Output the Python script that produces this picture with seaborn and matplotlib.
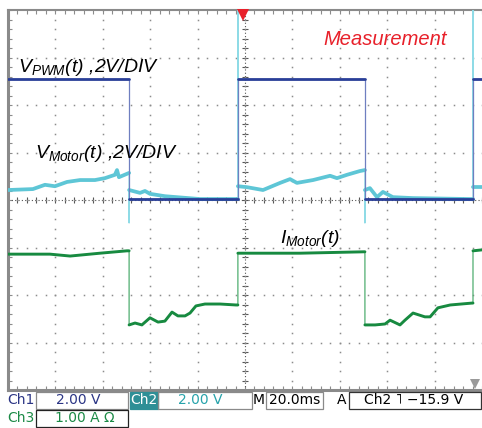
import numpy as np
import pandas as pd
import matplotlib
matplotlib.use("Agg")
import matplotlib.pyplot as plt
from matplotlib.patches import Rectangle
import seaborn as sns

# ---------------- data (time in ms, amplitude in screen divisions) ----------------
pwm_t = [0, 51.1, 51.1, 97.0, 97.0, 150.6, 150.6, 196.2, 196.2, 200]
pwm_v = [2.55, 2.55, 0.02, 0.02, 2.55, 2.55, 0.02, 0.02, 2.55, 2.55]

motor_t = [0, 10.5, 15.6, 19.8, 24.9, 30.4, 36.7, 40.9, 45.1, 46.0,
           46.8, 51.1, 51.1, 51.1, 55.7, 57.8, 59.9, 66.2, 81.0, 96.2,
           97.0, 97.0, 97.0, 100.8, 107.6, 114.8, 119.0, 121.9, 128.7, 135.9,
           138.8, 143.0, 148.5, 150.6, 150.6, 150.6, 152.7, 155.7, 158.2, 162.4,
           170.9, 195.0, 196.2, 196.2, 196.2, 200]
motor_v = [0.21, 0.23, 0.32, 0.29, 0.38, 0.42, 0.42, 0.46, 0.53, 0.63,
           0.48, 0.57, -0.48, 0.21, 0.15, 0.19, 0.13, 0.08, 0.02, 0.02,
           0.02, 4.1, 0.29, 0.27, 0.21, 0.36, 0.44, 0.36, 0.42, 0.51,
           0.46, 0.53, 0.61, 0.63, -0.48, 0.21, 0.25, 0.06, 0.17, 0.06,
           0.04, 0.02, 0.02, 4.1, 0.27, 0.27]

cur_t = [0, 17.7, 26.2, 38.8, 50.2, 51.1, 51.1, 53.6, 56.5, 59.9,
         63.3, 66.2, 69.2, 71.7, 74.7, 76.8, 79.3, 83.1, 89.5, 96.2,
         97.0, 97.0, 123.2, 150.6, 150.6, 154.9, 159.1, 161.2, 165.4, 167.5,
         170.9, 175.9, 178.1, 181.4, 186.6, 195.8, 196.2, 196.2, 200]
cur_v = [-1.14, -1.14, -1.18, -1.12, -1.07, -1.07, -2.63, -2.59, -2.63, -2.48,
         -2.57, -2.55, -2.36, -2.44, -2.44, -2.38, -2.23, -2.19, -2.19, -2.21,
         -2.21, -1.12, -1.12, -1.09, -2.63, -2.63, -2.61, -2.53, -2.63, -2.53,
         -2.38, -2.46, -2.46, -2.27, -2.21, -2.17, -2.17, -1.07, -1.05]

trigger_t = 99.2
label_pwm = r"$V_{PWM}(t)$ ,2V/DIV"
label_motor = r"$V_{Motor}(t)$ ,2V/DIV"
label_cur = r"$I_{Motor}(t)$"
title_text = "Measurement"
status_row1 = ["Ch1", "2.00 V", "Ch2", "2.00 V", "M", "20.0ms", "A", "Ch2 \u02E5 \u221215.9 V"]
status_row2 = ["Ch3", "1.00 A \u03A9"]

# ---------------- style ----------------
sns.set_theme(style="white")
plt.rcParams["font.family"] = ["DejaVu Sans"]
plt.rcParams["mathtext.fontset"] = "custom"
plt.rcParams["mathtext.it"] = "Liberation Sans:italic"
plt.rcParams["mathtext.rm"] = "Liberation Sans:italic"
plt.rcParams["mathtext.default"] = "it"

W, H = 482, 428
fig = plt.figure(figsize=(W / 100, H / 100), dpi=100)
fig.patch.set_facecolor("white")


def fx(x):
    return x / W


def fy(y):
    return 1 - y / H


ax = fig.add_axes([fx(8), fy(390), fx(474), 380 / H])
ax.set_facecolor("white")
ax.set_xlim(0, 200)
ax.set_ylim(-4, 4)

C_GRID = "#8c8c8c"

# grid dots
for gt in np.arange(20, 200, 20):
    ys = np.arange(-4, 4.001, 0.2)
    ax.plot(np.full_like(ys, gt), ys, ls="none", marker="s", ms=1.1, color=C_GRID, mew=0)
for gv in np.arange(-3, 3.5, 1):
    xs = np.arange(0, 200.01, 4)
    ax.plot(xs, np.full_like(xs, gv), ls="none", marker="s", ms=1.1, color=C_GRID, mew=0)
# centre lines
ax.axhline(0, color="#555555", lw=0.8, ls=(0, (1, 2)), zorder=1)
ax.axvline(100, color="#555555", lw=0.8, ls=(0, (1, 2)), zorder=1)
ax.vlines(np.arange(0, 200.01, 4), -0.06, 0.06, color="#555555", lw=0.8, zorder=1)
ax.hlines(np.arange(-4, 4.001, 0.2), 98.9, 101.1, color="#555555", lw=0.8, zorder=1)


def trace(t, v, color, edge_color, lw, z):
    df = pd.DataFrame({"t": t, "v": v})
    # thin line for the whole trace (shows the vertical edges)
    sns.lineplot(data=df, x="t", y="v", sort=False, estimator=None,
                 color=edge_color, lw=0.9, ax=ax, zorder=z)
    # thick noisy-looking band on the flat parts
    df["seg"] = (df["t"].diff() == 0).cumsum()
    for _, g in df.groupby("seg"):
        if len(g) > 1:
            sns.lineplot(data=g, x="t", y="v", sort=False, estimator=None,
                         color=color, lw=lw, ax=ax, zorder=z + 0.1)


trace(motor_t, motor_v, "#5ec6d6", "#8fdbe6", 2.7, 3)
trace(pwm_t, pwm_v, "#2a3f98", "#6f7fc0", 2.0, 4)
trace(cur_t, cur_v, "#178a40", "#4fae70", 2.1, 4)

# markers
ax.plot([trigger_t], [3.9], marker="v", ms=8, color="#e8202a", clip_on=False, zorder=6, mew=0)
ax.plot([197.1], [-3.87], marker="v", ms=7, color="#9a9a9a", clip_on=False, zorder=6, mew=0)

# labels
lab_kw = dict(fontsize=14, fontstyle="italic", family="Liberation Sans", color="black", va="baseline", zorder=7)
ax.text(4.2, 2.69, label_pwm, **lab_kw)
ax.text(11.4, 0.88, label_motor, **lab_kw)
ax.text(114.8, -0.91, label_cur, **lab_kw)
ax.text(132.9, 3.26, title_text, fontsize=14.5, fontstyle="italic", family="Liberation Sans",
        color="#e8202a", va="baseline")

# axes frame & ticks
ax.set_xlabel("")
ax.set_ylabel("")
ax.set_xticks(np.arange(0, 200.01, 20))
ax.set_yticks(np.arange(-4, 4.01, 1))
ax.set_xticks(np.arange(0, 200.01, 4), minor=True)
ax.set_yticks(np.arange(-4, 4.01, 0.2), minor=True)
ax.tick_params(which="both", direction="in", length=3, color=C_GRID, width=0.8,
               labelbottom=False, labelleft=False, top=True, bottom=True, left=True, right=False)
for side in ["left", "bottom"]:
    ax.spines[side].set_color("#8a8a8a")
    ax.spines[side].set_linewidth(2.2)
ax.spines["top"].set_color("#8a8a8a")
ax.spines["top"].set_linewidth(1.5)
ax.spines["right"].set_visible(False)

# ---------------- status bar ----------------
st_kw = dict(fontsize=10, va="center", family="DejaVu Sans")


def box(x0, x1, y0, y1, fc="none", ec="#555555"):
    fig.patches.append(Rectangle((fx(x0), fy(y1)), fx(x1 - x0), (y1 - y0) / H,
                                 transform=fig.transFigure, fc=fc, ec=ec, lw=0.9))


row1_y = fy(400.5)
row2_y = fy(418.5)
fig.text(fx(7), row1_y, status_row1[0], color="#2b3585", ha="left", **st_kw)
box(36, 128, 392, 409, ec="#8a8a8a")
fig.text(fx(78), row1_y, status_row1[1], color="#2b3585", ha="center", **st_kw)
box(130, 158, 392, 409, fc="#2e8f96", ec="#2e8f96")
fig.text(fx(144), row1_y, status_row1[2], color="white", ha="center", **st_kw)
box(158, 252, 392, 409, ec="#8a8a8a")
fig.text(fx(200), row1_y, status_row1[3], color="#27a3ab", ha="center", **st_kw)
fig.text(fx(259), row1_y, status_row1[4], color="black", ha="center", **st_kw)
box(266, 323, 392, 409, ec="#8a8a8a")
fig.text(fx(295), row1_y, status_row1[5], color="black", ha="center", **st_kw)
fig.text(fx(342), row1_y, status_row1[6], color="black", ha="center", **st_kw)
box(349, 481, 392, 409, ec="#333333")
fig.text(fx(414), row1_y, status_row1[7], color="black", ha="center", **st_kw)
fig.text(fx(7), row2_y, status_row2[0], color="#1b8a46", ha="left", **st_kw)
box(36, 128, 410, 427, ec="#222222")
fig.text(fx(85), row2_y, status_row2[1], color="#1b8a46", ha="center", **st_kw)

fig.savefig("out.png", dpi=100, facecolor="white")
